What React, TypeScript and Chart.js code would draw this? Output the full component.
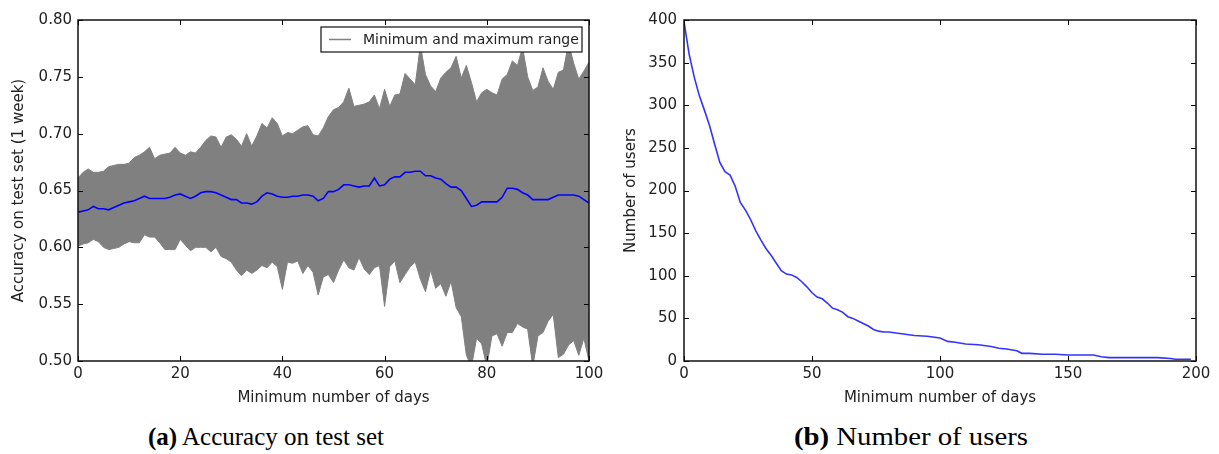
import React, { useEffect, useRef } from 'react';
import { Chart, registerables } from 'chart.js';

Chart.register(...registerables);

// ---------- Panel (a): accuracy on test set ----------
const accDays = [
  0, 1, 2, 3, 4, 5, 6, 7, 8, 9, 10, 11, 12, 13, 14, 15, 16, 17, 18, 19,
  20, 21, 22, 23, 24, 25, 26, 27, 28, 29, 30, 31, 32, 33, 34, 35, 36, 37, 38, 39,
  40, 41, 42, 43, 44, 45, 46, 47, 48, 49, 50, 51, 52, 53, 54, 55, 56, 57, 58, 59,
  60, 61, 62, 63, 64, 65, 66, 67, 68, 69, 70, 71, 72, 73, 74, 75, 76, 77, 78, 79,
  80, 81, 82, 83, 84, 85, 86, 87, 88, 89, 90, 91, 92, 93, 94, 95, 96, 97, 98, 99, 100,
];
const accMax = [
  0.661, 0.666, 0.669, 0.666, 0.666, 0.667, 0.671, 0.672, 0.673, 0.673,
  0.674, 0.679, 0.681, 0.684, 0.688, 0.678, 0.681, 0.682, 0.683, 0.688,
  0.683, 0.681, 0.684, 0.683, 0.688, 0.694, 0.698, 0.697, 0.688, 0.697,
  0.699, 0.695, 0.689, 0.700, 0.689, 0.698, 0.709, 0.705, 0.714, 0.709,
  0.698, 0.701, 0.700, 0.703, 0.706, 0.707, 0.699, 0.698, 0.705, 0.715,
  0.721, 0.723, 0.728, 0.740, 0.724, 0.725, 0.726, 0.728, 0.734, 0.722,
  0.739, 0.724, 0.734, 0.735, 0.753, 0.748, 0.743, 0.778, 0.752, 0.742,
  0.737, 0.749, 0.754, 0.758, 0.768, 0.749, 0.760, 0.745, 0.728, 0.736,
  0.739, 0.736, 0.734, 0.748, 0.752, 0.764, 0.760, 0.776, 0.750, 0.738,
  0.741, 0.758, 0.746, 0.739, 0.754, 0.756, 0.780, 0.762, 0.748, 0.755,
  0.763,
];
const accMin = [
  0.601, 0.603, 0.604, 0.607, 0.605, 0.600, 0.598, 0.599, 0.600, 0.603,
  0.605, 0.604, 0.604, 0.611, 0.609, 0.609, 0.604, 0.598, 0.598, 0.598,
  0.607, 0.602, 0.597, 0.600, 0.600, 0.600, 0.596, 0.600, 0.592, 0.590,
  0.587, 0.580, 0.575, 0.580, 0.577, 0.580, 0.584, 0.582, 0.587, 0.583,
  0.563, 0.587, 0.586, 0.588, 0.577, 0.584, 0.578, 0.558, 0.574, 0.576,
  0.569, 0.580, 0.589, 0.582, 0.580, 0.591, 0.581, 0.576, 0.582, 0.584,
  0.548, 0.583, 0.588, 0.569, 0.576, 0.583, 0.587, 0.572, 0.561, 0.580,
  0.564, 0.568, 0.557, 0.570, 0.547, 0.539, 0.505, 0.495, 0.520, 0.515,
  0.495, 0.522, 0.524, 0.513, 0.525, 0.525, 0.533, 0.530, 0.528, 0.495,
  0.522, 0.525, 0.535, 0.541, 0.503, 0.506, 0.514, 0.518, 0.505, 0.520,
  0.500,
];
const accMean = [
  0.631, 0.632, 0.633, 0.636, 0.634, 0.634, 0.633, 0.635, 0.637, 0.639,
  0.640, 0.641, 0.643, 0.645, 0.643, 0.643, 0.643, 0.643, 0.644, 0.646,
  0.647, 0.645, 0.643, 0.645, 0.648, 0.649, 0.649, 0.648, 0.646, 0.644,
  0.642, 0.642, 0.639, 0.639, 0.638, 0.640, 0.645, 0.648, 0.647, 0.645,
  0.644, 0.644, 0.645, 0.645, 0.646, 0.646, 0.645, 0.641, 0.643, 0.649,
  0.649, 0.651, 0.655, 0.655, 0.654, 0.653, 0.654, 0.654, 0.661, 0.654,
  0.655, 0.660, 0.662, 0.662, 0.666, 0.666, 0.667, 0.667, 0.663, 0.663,
  0.661, 0.660, 0.656, 0.653, 0.653, 0.650, 0.643, 0.636, 0.637, 0.640,
  0.640, 0.640, 0.640, 0.644, 0.652, 0.652, 0.651, 0.648, 0.646, 0.642,
  0.642, 0.642, 0.642, 0.644, 0.646, 0.646, 0.646, 0.646, 0.645, 0.642,
  0.639,
];
const accYMin = 0.5;
const accYMax = 0.8;
const accYStep = 0.05;
const accXMax = 100;
const accXStep = 20;

// ---------- Panel (b): number of users ----------
const userDays = [
  0, 2, 4, 6, 8, 10, 12, 14, 16, 18, 20, 22, 24, 26, 28, 30, 32, 34, 36, 38,
  40, 42, 44, 46, 48, 50, 52, 54, 56, 58, 60, 62, 64, 66, 68, 70, 72, 74, 76, 78,
  80, 85, 90, 95, 100, 103, 106, 110, 115, 120, 123, 126, 130, 132, 135, 140, 145,
  150, 155, 160, 163, 166, 170, 175, 180, 185, 190, 192, 195, 198,
];
const userCounts = [
  398, 360, 333, 311, 294, 276, 254, 233, 222, 218, 205, 186, 177, 166, 153, 142, 132, 124, 115, 106,
  102, 101, 98, 93, 87, 80, 75, 73, 68, 62, 60, 57, 52, 50, 47, 44, 41, 37, 35, 34,
  34, 32, 30, 29, 27, 23, 22, 20, 19, 17, 15, 14, 12, 9, 9, 8, 8,
  7, 7, 7, 5, 4, 4, 4, 4, 4, 3, 2, 2, 2,
];
const userYMax = 400;
const userYStep = 50;
const userXMax = 200;
const userXStep = 50;

const legendLabel = 'Minimum and maximum range';
const FONT = '"DejaVu Sans", sans-serif';
const TEXT = '#222';

const framePlugin = {
  id: 'mplFrame',
  afterDatasetsDraw(chart: any) {
    const { ctx, chartArea, scales } = chart;
    const { left, right, top, bottom } = chartArea;
    const L = 5;
    ctx.save();
    ctx.strokeStyle = '#000';
    ctx.lineWidth = 1;
    ctx.beginPath();
    scales.x.ticks.forEach((t: any) => {
      const px = Math.round(scales.x.getPixelForValue(t.value)) + 0.5;
      ctx.moveTo(px, bottom);
      ctx.lineTo(px, bottom - L);
      ctx.moveTo(px, top);
      ctx.lineTo(px, top + L);
    });
    scales.y.ticks.forEach((t: any) => {
      const py = Math.round(scales.y.getPixelForValue(t.value)) + 0.5;
      ctx.moveTo(left, py);
      ctx.lineTo(left + L, py);
      ctx.moveTo(right, py);
      ctx.lineTo(right - L, py);
    });
    ctx.stroke();
    ctx.lineWidth = 1.5;
    ctx.strokeStyle = '#111';
    ctx.strokeRect(left, top, right - left, bottom - top);
    ctx.restore();
  },
};

const boxLegendPlugin = {
  id: 'boxLegend',
  afterDraw(chart: any) {
    const opts = chart.options.plugins.boxLegend;
    if (!opts || !opts.display) return;
    const { ctx, chartArea } = chart;
    const x1 = chartArea.right - 268;
    const x2 = chartArea.right - 7;
    const y1 = chartArea.top + 7;
    const y2 = chartArea.top + 32;
    ctx.save();
    ctx.fillStyle = '#fff';
    ctx.fillRect(x1, y1, x2 - x1, y2 - y1);
    ctx.strokeStyle = '#111';
    ctx.lineWidth = 1.2;
    ctx.strokeRect(x1, y1, x2 - x1, y2 - y1);
    const cy = (y1 + y2) / 2;
    ctx.strokeStyle = '#808080';
    ctx.lineWidth = 1.5;
    ctx.beginPath();
    ctx.moveTo(x1 + 8, cy);
    ctx.lineTo(x1 + 30, cy);
    ctx.stroke();
    ctx.fillStyle = TEXT;
    ctx.font = `14px ${FONT}`;
    ctx.textBaseline = 'middle';
    ctx.textAlign = 'left';
    ctx.fillText(opts.text, x1 + 42, cy + 1);
    ctx.restore();
  },
};

function AccuracyChart() {
  const ref = useRef<HTMLCanvasElement>(null);
  useEffect(() => {
    const toPts = (ys: number[]) => accDays.map((d, i) => ({ x: d, y: ys[i] }));
    const chart = new Chart(ref.current as HTMLCanvasElement, {
      type: 'line',
      data: {
        datasets: [
          {
            label: 'Mean',
            data: toPts(accMean),
            borderColor: '#0000ff',
            borderWidth: 1.6,
            pointRadius: 0,
            fill: false,
            tension: 0,
          },
          {
            label: legendLabel,
            data: toPts(accMax),
            borderColor: '#808080',
            backgroundColor: '#808080',
            borderWidth: 1,
            pointRadius: 0,
            fill: '+1',
            tension: 0,
          },
          {
            label: 'min',
            data: toPts(accMin),
            borderColor: '#808080',
            borderWidth: 1,
            pointRadius: 0,
            fill: false,
            tension: 0,
          },
        ],
      },
      options: {
        animation: false,
        responsive: false,
        devicePixelRatio: 1,
        layout: { padding: { top: 20, right: 31, bottom: 0, left: 0 } },
        plugins: {
          legend: { display: false },
          tooltip: { enabled: false },
          boxLegend: { display: true, text: legendLabel },
        } as any,
        scales: {
          x: {
            type: 'linear',
            min: 0,
            max: accXMax,
            grid: { display: false, drawTicks: false },
            border: { display: false },
            ticks: { stepSize: accXStep, color: TEXT, font: { family: FONT, size: 15 }, padding: 4, maxRotation: 0 },
            title: { display: true, text: 'Minimum number of days', color: TEXT, font: { family: FONT, size: 15 }, padding: { top: 0, bottom: 3 } },
            afterFit: (s: any) => { s.height = 49; },
          },
          y: {
            type: 'linear',
            min: accYMin,
            max: accYMax,
            grid: { display: false, drawTicks: false },
            border: { display: false },
            ticks: {
              stepSize: accYStep,
              color: TEXT,
              font: { family: FONT, size: 15 },
              padding: 6,
              callback: (v: any) => Number(v).toFixed(2),
            },
            title: { display: true, text: 'Accuracy on test set (1 week)', color: TEXT, font: { family: FONT, size: 15 }, padding: { top: 10, bottom: 0 } },
            afterFit: (s: any) => { s.width = 78; },
          },
        },
      },
      plugins: [framePlugin, boxLegendPlugin],
    });
    return () => chart.destroy();
  }, []);
  return <canvas ref={ref} width={620} height={410} style={{ display: 'block' }} />;
}

function UsersChart() {
  const ref = useRef<HTMLCanvasElement>(null);
  useEffect(() => {
    const chart = new Chart(ref.current as HTMLCanvasElement, {
      type: 'line',
      data: {
        datasets: [
          {
            label: 'Number of users',
            data: userDays.map((d, i) => ({ x: d, y: userCounts[i] })),
            borderColor: '#3333ff',
            borderWidth: 1.6,
            pointRadius: 0,
            fill: false,
            tension: 0,
          },
        ],
      },
      options: {
        animation: false,
        responsive: false,
        devicePixelRatio: 1,
        layout: { padding: { top: 20, right: 23, bottom: 0, left: 0 } },
        plugins: { legend: { display: false }, tooltip: { enabled: false } },
        scales: {
          x: {
            type: 'linear',
            min: 0,
            max: userXMax,
            grid: { display: false, drawTicks: false },
            border: { display: false },
            ticks: { stepSize: userXStep, color: TEXT, font: { family: FONT, size: 15 }, padding: 4, maxRotation: 0 },
            title: { display: true, text: 'Minimum number of days', color: TEXT, font: { family: FONT, size: 15 }, padding: { top: 0, bottom: 3 } },
            afterFit: (s: any) => { s.height = 49; },
          },
          y: {
            type: 'linear',
            min: 0,
            max: userYMax,
            grid: { display: false, drawTicks: false },
            border: { display: false },
            ticks: { stepSize: userYStep, color: TEXT, font: { family: FONT, size: 15 }, padding: 7 },
            title: { display: true, text: 'Number of users', color: TEXT, font: { family: FONT, size: 15 }, padding: { top: 7, bottom: 0 } },
            afterFit: (s: any) => { s.width = 69; },
          },
        },
      },
      plugins: [framePlugin],
    });
    return () => chart.destroy();
  }, []);
  return <canvas ref={ref} width={604} height={410} style={{ display: 'block' }} />;
}

const captionStyle: React.CSSProperties = {
  position: 'absolute',
  top: 424,
  width: 400,
  textAlign: 'center',
  fontFamily: '"Liberation Serif", "Times New Roman", serif',
  fontSize: 25,
  lineHeight: '26px',
  color: '#000',
  whiteSpace: 'nowrap',
};

export default function App() {
  return (
    <div style={{ position: 'absolute', left: 0, top: 0, width: 1219, height: 454, background: '#fff', overflow: 'hidden' }}>
      <div style={{ position: 'absolute', left: 0, top: 0 }}>
        <AccuracyChart />
      </div>
      <div style={{ position: 'absolute', left: 615, top: 0 }}>
        <UsersChart />
      </div>
      <div style={{ ...captionStyle, left: 266 - 200 }}>
        <b>(a)</b> Accuracy on test set
      </div>
      <div style={{ ...captionStyle, left: 911 - 200, transform: 'scaleX(1.15)', transformOrigin: '50% 50%' }}>
        <b>(b)</b> Number of users
      </div>
    </div>
  );
}
